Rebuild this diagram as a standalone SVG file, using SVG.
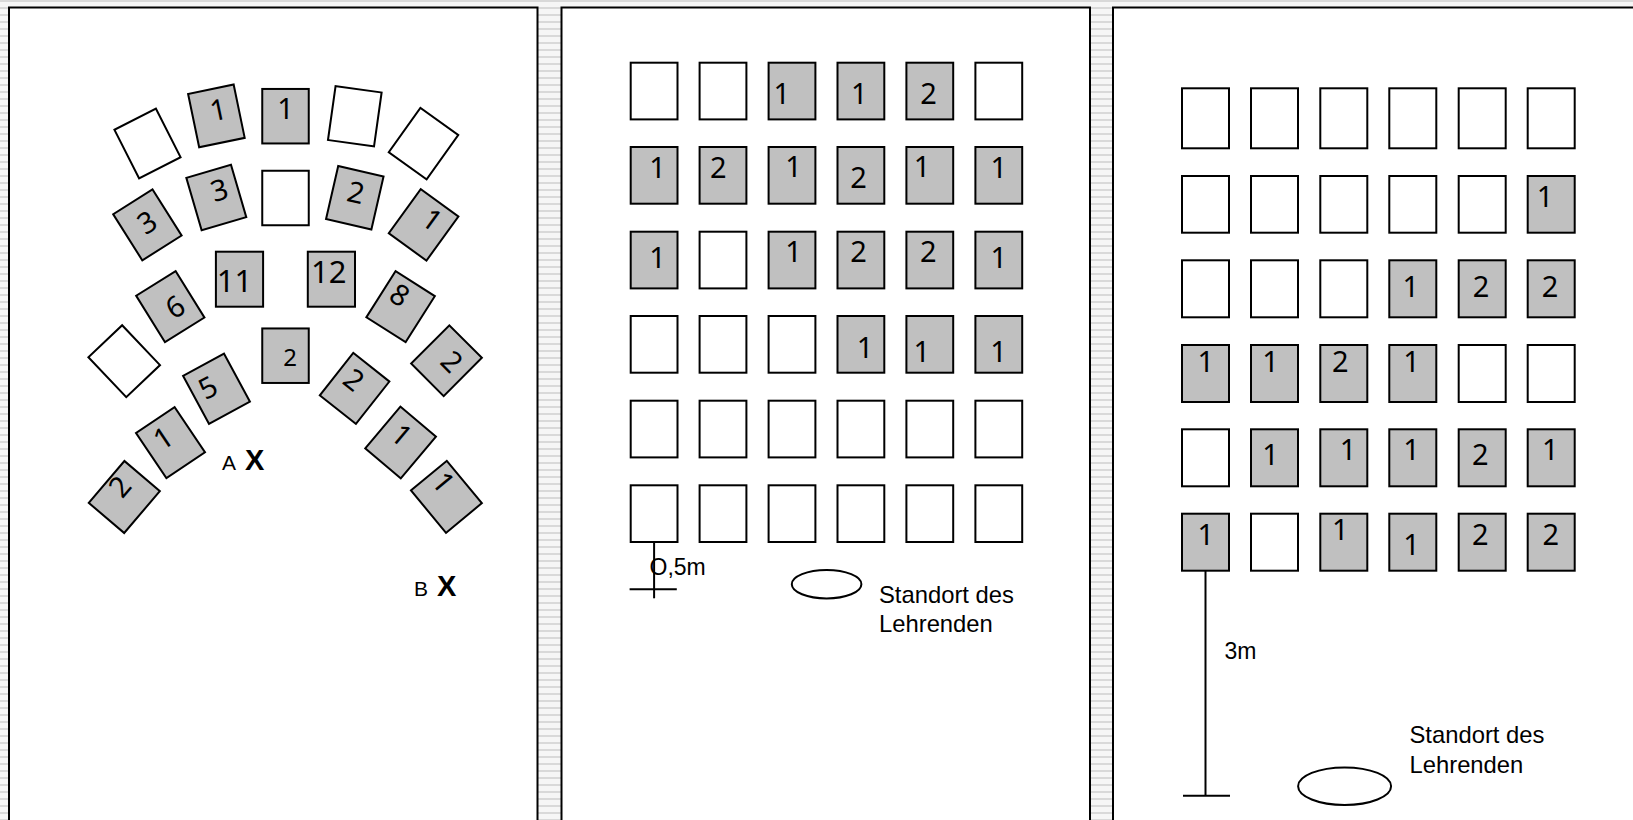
<svg xmlns="http://www.w3.org/2000/svg" width="1633" height="820" viewBox="0 0 1633 820">
<defs>
<pattern id="stripes" width="8" height="7" patternUnits="userSpaceOnUse">
<rect width="8" height="7" fill="#f6f6f6"/>
<rect y="0" width="8" height="2" fill="#d9d9d9"/>
</pattern>
<style>
.panel{fill:#fff;stroke:#000;stroke-width:2}
.d{stroke:#000;stroke-width:2}
.w{fill:#fff}
.g{fill:#c0c0c0}
.n{font-family:"Noto Sans","Open Sans",sans-serif;font-size:29px;fill:#000;text-anchor:middle}
.lbl{font-family:"Liberation Sans",Arial,sans-serif;font-size:23px;fill:#000}
.st{font-size:23.8px}
.ln{stroke:#000;stroke-width:2;fill:none}
</style>
</defs>
<rect width="1633" height="820" fill="url(#stripes)"/>
<g id="panels">
<rect class="panel" x="9" y="7.5" width="528.5" height="830"/>
<rect class="panel" x="561.5" y="7.5" width="528.5" height="830"/>
<rect class="panel" x="1113" y="7.5" width="600" height="830"/>
</g>

<!-- Panel 1: horseshoe -->
<g id="p1">
<g id="p1d1" transform="translate(147.5,143.5) rotate(-26.9)"><rect class="d w" x="-23.25" y="-27.25" width="46.5" height="54.5"/></g>
<g id="p1d2" transform="translate(216.4,115.9) rotate(-11.7)"><rect class="d g" x="-23.25" y="-27.25" width="46.5" height="54.5"/><text class="n" x="3" y="4.5">1</text></g>
<g id="p1d3" transform="translate(285.5,116.2)"><rect class="d g" x="-23.25" y="-27.25" width="46.5" height="54.5"/><text class="n" x="0" y="3">1</text></g>
<g id="p1d4" transform="translate(354.8,116.25) rotate(8)"><rect class="d w" x="-23.25" y="-27.25" width="46.5" height="54.5"/></g>
<g id="p1d5" transform="translate(423.5,143.6) rotate(35.5)"><rect class="d w" x="-23.25" y="-27.25" width="46.5" height="54.5"/></g>
<g id="p1d6" transform="translate(147.4,224.9) rotate(-32.3)"><rect class="d g" x="-23.25" y="-27.25" width="46.5" height="54.5"/><text class="n" x="1" y="8">3</text></g>
<g id="p1d7" transform="translate(216.3,197.5) rotate(-16.3)"><rect class="d g" x="-23.25" y="-27.25" width="46.5" height="54.5"/><text class="n" x="5" y="4">3</text></g>
<g id="p1d8" transform="translate(285.5,198)"><rect class="d w" x="-23.25" y="-27.25" width="46.5" height="54.5"/></g>
<g id="p1d9" transform="translate(354.8,197.75) rotate(12.9)"><rect class="d g" x="-23.25" y="-27.25" width="46.5" height="54.5"/><text class="n" x="0" y="5">2</text></g>
<g id="p1d10" transform="translate(423.6,224.9) rotate(35.9)"><rect class="d g" x="-23.25" y="-27.25" width="46.5" height="54.5"/><text class="n" x="4" y="1">1</text></g>
<g id="p1d11" transform="translate(239.5,279.2)"><rect class="d g" x="-23.6" y="-27.5" width="47.2" height="55"/><text class="n" x="-5" y="12.5" style="font-size:31px">11</text></g>
<g id="p1d12" transform="translate(331.4,279.2)"><rect class="d g" x="-23.6" y="-27.5" width="47.2" height="55"/><text class="n" x="-2.6" y="4" style="font-size:31px">12</text></g>
<g id="p1d13" transform="translate(170.3,306.6) rotate(-31.9)"><rect class="d g" x="-23.25" y="-27.25" width="46.5" height="54.5"/><text class="n" x="4" y="13">6</text></g>
<g id="p1d14" transform="translate(400.6,306.7) rotate(32.4)"><rect class="d g" x="-23.25" y="-27.25" width="46.5" height="54.5"/><text class="n" x="-7" y="1">8</text></g>
<g id="p1d15" transform="translate(285.5,355.7)"><rect class="d g" x="-23.25" y="-27.25" width="46.5" height="54.5"/><text class="n" x="4.7" y="10.3" style="font-size:24px">2</text></g>
<g id="p1d16" transform="translate(124.2,361.2) rotate(-43.5)"><rect class="d w" x="-23.25" y="-27.5" width="46.5" height="55"/></g>
<g id="p1d17" transform="translate(216.5,388.75) rotate(-28.4)"><rect class="d g" x="-23.25" y="-27.25" width="46.5" height="54.5"/><text class="n" x="-7" y="5">5</text></g>
<g id="p1d18" transform="translate(354.6,388.4) rotate(38.3)"><rect class="d g" x="-23" y="-27" width="46" height="54"/><text class="n" x="-6" y="4">2</text></g>
<g id="p1d19" transform="translate(446.5,360.7) rotate(45)"><rect class="d g" x="-23" y="-27" width="46" height="54"/><text class="n" x="4.5" y="7">2</text></g>
<g id="p1d20" transform="translate(170.5,442.6) rotate(-33.9)"><rect class="d g" x="-23.25" y="-27.25" width="46.5" height="54.5"/><text class="n" x="-3.5" y="2.5">1</text></g>
<g id="p1d21" transform="translate(124.3,497) rotate(-49.6)"><rect class="d g" x="-27.5" y="-23.25" width="55" height="46.5"/><text class="n" x="5" y="0">2</text></g>
<g id="p1d22" transform="translate(400.6,442.5) rotate(40.2)"><rect class="d g" x="-23.25" y="-27.25" width="46.5" height="54.5"/><text class="n" x="-4" y="4">1</text></g>
<g id="p1d23" transform="translate(446.4,496.8) rotate(50.4)"><rect class="d g" x="-27.5" y="-23.25" width="55" height="46.5"/><text class="n" x="-13" y="3.5">1</text></g>
<g id="p1A"><text class="lbl" x="222" y="470" style="font-size:21px">A</text><text class="lbl" x="245" y="470" style="font-size:29px;font-weight:bold">X</text></g>
<g id="p1B"><text class="lbl" x="414" y="596" style="font-size:21px">B</text><text class="lbl" x="437" y="596" style="font-size:29px;font-weight:bold">X</text></g>
</g>

<!-- Panel 2: grid -->
<g id="p2">
<g id="p2r1">
<rect class="d w" x="630.7" y="62.7" width="46.8" height="56.7"/>
<rect class="d w" x="699.6" y="62.7" width="46.8" height="56.7"/>
<rect class="d g" x="768.6" y="62.7" width="46.8" height="56.7"/>
<rect class="d g" x="837.5" y="62.7" width="46.8" height="56.7"/>
<rect class="d g" x="906.4" y="62.7" width="46.8" height="56.7"/>
<rect class="d w" x="975.4" y="62.7" width="46.8" height="56.7"/>
<text class="n" x="781.8" y="104">1</text><text class="n" x="859.3" y="104">1</text><text class="n" x="928.6" y="104">2</text>
</g>
<g id="p2r2">
<rect class="d g" x="630.7" y="147" width="46.8" height="56.7"/>
<rect class="d g" x="699.6" y="147" width="46.8" height="56.7"/>
<rect class="d g" x="768.6" y="147" width="46.8" height="56.7"/>
<rect class="d g" x="837.5" y="147" width="46.8" height="56.7"/>
<rect class="d g" x="906.4" y="147" width="46.8" height="56.7"/>
<rect class="d g" x="975.4" y="147" width="46.8" height="56.7"/>
<text class="n" x="657.5" y="178.3">1</text><text class="n" x="718.2" y="178">2</text><text class="n" x="793.6" y="176.7">1</text><text class="n" x="858.6" y="188.3">2</text><text class="n" x="922.1" y="176.7">1</text><text class="n" x="998.9" y="178.3">1</text>
</g>
<g id="p2r3">
<rect class="d g" x="630.7" y="231.7" width="46.8" height="56.7"/>
<rect class="d w" x="699.6" y="231.7" width="46.8" height="56.7"/>
<rect class="d g" x="768.6" y="231.7" width="46.8" height="56.7"/>
<rect class="d g" x="837.5" y="231.7" width="46.8" height="56.7"/>
<rect class="d g" x="906.4" y="231.7" width="46.8" height="56.7"/>
<rect class="d g" x="975.4" y="231.7" width="46.8" height="56.7"/>
<text class="n" x="657.5" y="268.3">1</text><text class="n" x="793.6" y="261.7">1</text><text class="n" x="858.6" y="261.7">2</text><text class="n" x="928.2" y="261.7">2</text><text class="n" x="998.9" y="268.3">1</text>
</g>
<g id="p2r4">
<rect class="d w" x="630.7" y="316" width="46.8" height="56.7"/>
<rect class="d w" x="699.6" y="316" width="46.8" height="56.7"/>
<rect class="d w" x="768.6" y="316" width="46.8" height="56.7"/>
<rect class="d g" x="837.5" y="316" width="46.8" height="56.7"/>
<rect class="d g" x="906.4" y="316" width="46.8" height="56.7"/>
<rect class="d g" x="975.4" y="316" width="46.8" height="56.7"/>
<text class="n" x="865" y="357.7">1</text><text class="n" x="921.8" y="361.7">1</text><text class="n" x="998.6" y="361.7">1</text>
</g>
<g id="p2r5">
<rect class="d w" x="630.7" y="400.7" width="46.8" height="56.7"/>
<rect class="d w" x="699.6" y="400.7" width="46.8" height="56.7"/>
<rect class="d w" x="768.6" y="400.7" width="46.8" height="56.7"/>
<rect class="d w" x="837.5" y="400.7" width="46.8" height="56.7"/>
<rect class="d w" x="906.4" y="400.7" width="46.8" height="56.7"/>
<rect class="d w" x="975.4" y="400.7" width="46.8" height="56.7"/>
</g>
<g id="p2r6">
<rect class="d w" x="630.7" y="485.3" width="46.8" height="56.7"/>
<rect class="d w" x="699.6" y="485.3" width="46.8" height="56.7"/>
<rect class="d w" x="768.6" y="485.3" width="46.8" height="56.7"/>
<rect class="d w" x="837.5" y="485.3" width="46.8" height="56.7"/>
<rect class="d w" x="906.4" y="485.3" width="46.8" height="56.7"/>
<rect class="d w" x="975.4" y="485.3" width="46.8" height="56.7"/>
</g>
<g id="p2measure">
<line class="ln" x1="654.1" y1="542" x2="654.1" y2="598.3"/>
<line class="ln" x1="629.6" y1="589.3" x2="676.8" y2="589.3"/>
<text class="lbl" x="649.5" y="575">O,5m</text>
</g>
<g id="p2teacher">
<ellipse class="ln" cx="826.6" cy="584.2" rx="34.8" ry="14.2"/>
<text class="lbl st" x="879" y="603.3">Standort des</text>
<text class="lbl st" x="879" y="631.7">Lehrenden</text>
</g>
</g>

<!-- Panel 3: grid -->
<g id="p3">
<g id="p3r1">
<rect class="d w" x="1182" y="88.3" width="47" height="60"/>
<rect class="d w" x="1251" y="88.3" width="47" height="60"/>
<rect class="d w" x="1320.3" y="88.3" width="47" height="60"/>
<rect class="d w" x="1389.3" y="88.3" width="47" height="60"/>
<rect class="d w" x="1458.7" y="88.3" width="47" height="60"/>
<rect class="d w" x="1527.7" y="88.3" width="47" height="60"/>
</g>
<g id="p3r2">
<rect class="d w" x="1182" y="176" width="47" height="56.7"/>
<rect class="d w" x="1251" y="176" width="47" height="56.7"/>
<rect class="d w" x="1320.3" y="176" width="47" height="56.7"/>
<rect class="d w" x="1389.3" y="176" width="47" height="56.7"/>
<rect class="d w" x="1458.7" y="176" width="47" height="56.7"/>
<rect class="d g" x="1527.7" y="176" width="47" height="56.7"/>
<text class="n" x="1545" y="207.3">1</text>
</g>
<g id="p3r3">
<rect class="d w" x="1182" y="260.3" width="47" height="57"/>
<rect class="d w" x="1251" y="260.3" width="47" height="57"/>
<rect class="d w" x="1320.3" y="260.3" width="47" height="57"/>
<rect class="d g" x="1389.3" y="260.3" width="47" height="57"/>
<rect class="d g" x="1458.7" y="260.3" width="47" height="57"/>
<rect class="d g" x="1527.7" y="260.3" width="47" height="57"/>
<text class="n" x="1410.7" y="296.7">1</text><text class="n" x="1481" y="296.7">2</text><text class="n" x="1550" y="296.7">2</text>
</g>
<g id="p3r4">
<rect class="d g" x="1182" y="345" width="47" height="57"/>
<rect class="d g" x="1251" y="345" width="47" height="57"/>
<rect class="d g" x="1320.3" y="345" width="47" height="57"/>
<rect class="d g" x="1389.3" y="345" width="47" height="57"/>
<rect class="d w" x="1458.7" y="345" width="47" height="57"/>
<rect class="d w" x="1527.7" y="345" width="47" height="57"/>
<text class="n" x="1205.9" y="371.7">1</text><text class="n" x="1270.5" y="371.7">1</text><text class="n" x="1340.3" y="371.7">2</text><text class="n" x="1411.6" y="371.7">1</text>
</g>
<g id="p3r5">
<rect class="d w" x="1182" y="429.3" width="47" height="57"/>
<rect class="d g" x="1251" y="429.3" width="47" height="57"/>
<rect class="d g" x="1320.3" y="429.3" width="47" height="57"/>
<rect class="d g" x="1389.3" y="429.3" width="47" height="57"/>
<rect class="d g" x="1458.7" y="429.3" width="47" height="57"/>
<rect class="d g" x="1527.7" y="429.3" width="47" height="57"/>
<text class="n" x="1270.5" y="465">1</text><text class="n" x="1348" y="460">1</text><text class="n" x="1411.6" y="460">1</text><text class="n" x="1480.4" y="465">2</text><text class="n" x="1550.2" y="460">1</text>
</g>
<g id="p3r6">
<rect class="d g" x="1182" y="513.7" width="47" height="57"/>
<rect class="d w" x="1251" y="513.7" width="47" height="57"/>
<rect class="d g" x="1320.3" y="513.7" width="47" height="57"/>
<rect class="d g" x="1389.3" y="513.7" width="47" height="57"/>
<rect class="d g" x="1458.7" y="513.7" width="47" height="57"/>
<rect class="d g" x="1527.7" y="513.7" width="47" height="57"/>
<text class="n" x="1205.9" y="545">1</text><text class="n" x="1340.3" y="540">1</text><text class="n" x="1411.6" y="555">1</text><text class="n" x="1480.4" y="545">2</text><text class="n" x="1550.9" y="545">2</text>
</g>
<g id="p3measure">
<line class="ln" x1="1205.5" y1="570.7" x2="1205.5" y2="795.7"/>
<line class="ln" x1="1183" y1="795.7" x2="1230" y2="795.7"/>
<text class="lbl" x="1224.5" y="659.3">3m</text>
</g>
<g id="p3teacher">
<ellipse class="ln" cx="1344.6" cy="786.2" rx="46.5" ry="18.8"/>
<text class="lbl st" x="1409.5" y="743.3">Standort des</text>
<text class="lbl st" x="1409.5" y="772.7">Lehrenden</text>
</g>
</g>
</svg>
